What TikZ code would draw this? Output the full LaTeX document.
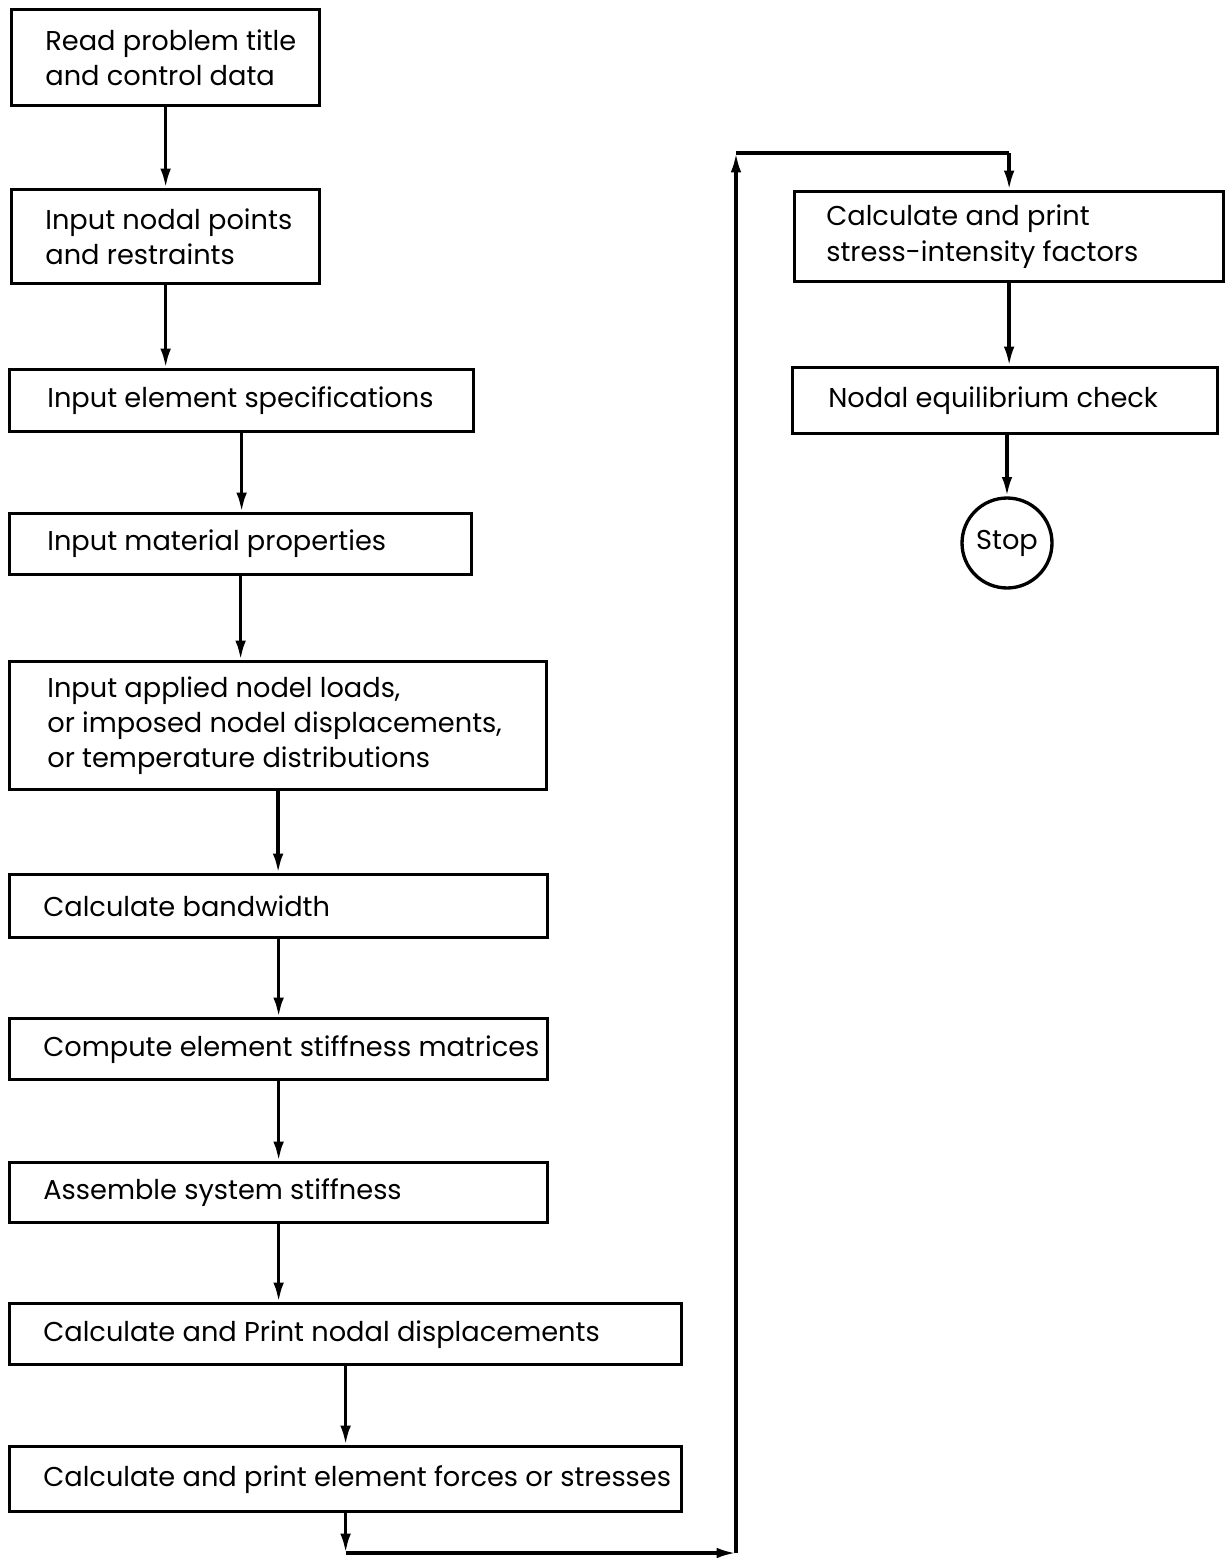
\documentclass[tikz,border=0pt]{standalone}
\usepackage{fontspec}
\setmainfont{Poppins}
\usetikzlibrary{arrows.meta}

\begin{document}
\begin{tikzpicture}[x=0.02cm,y=-0.02cm,
  >={Latex[length=11pt,width=6pt]},
  procbox/.style={draw,line width=1.9pt,anchor=north west,inner sep=0pt},
  proctext/.style={anchor=west,align=left,inner sep=0pt,xshift=0.7cm,font=\fontsize{15.5}{20}\selectfont},
  flow/.style={->,line width=1.9pt}]
\useasboundingbox (0,0) rectangle (1228,1558);

% left column
\node[procbox,minimum width=6.16cm,minimum height=1.92cm,label={[proctext]west:{Read problem title\\and control data}}] (title) at (10,8) {};
\node[procbox,minimum width=6.16cm,minimum height=1.88cm,label={[proctext]west:{Input nodal points\\and restraints}}] (nodal) at (10,188) {};
\node[procbox,minimum width=9.28cm,minimum height=1.24cm,label={[proctext,xshift=0.08cm]west:{Input element specifications}}] (elem) at (8,368) {};
\node[procbox,minimum width=9.24cm,minimum height=1.22cm,label={[proctext,xshift=0.08cm]west:{Input material properties}}] (matl) at (8,512) {};
\node[procbox,minimum width=10.74cm,minimum height=2.56cm,label={[proctext,xshift=0.08cm]west:{Input applied nodel loads,\\or imposed nodel displacements,\\or temperature distributions}}] (loads) at (8,660) {};
\node[procbox,minimum width=10.76cm,minimum height=1.26cm,label={[proctext]west:{Calculate bandwidth}}] (band) at (8,873) {};
\node[procbox,minimum width=10.76cm,minimum height=1.22cm,label={[proctext]west:{Compute element stiffness matrices}}] (stiff) at (8,1017) {};
\node[procbox,minimum width=10.76cm,minimum height=1.20cm,label={[proctext]west:{Assemble system stiffness}}] (assem) at (8,1161) {};
\node[procbox,minimum width=13.44cm,minimum height=1.22cm,label={[proctext]west:{Calculate and Print nodal displacements}}] (disp) at (8,1302) {};
\node[procbox,minimum width=13.44cm,minimum height=1.30cm,label={[proctext]west:{Calculate and print element forces or stresses}}] (forces) at (8,1445) {};

% right column
\node[procbox,minimum width=8.58cm,minimum height=1.80cm,label={[proctext,xshift=-0.04cm]west:{Calculate and print\\stress-intensity factors}}] (sif) at (793,190) {};
\node[procbox,minimum width=8.50cm,minimum height=1.32cm,label={[proctext,xshift=0.04cm]west:{Nodal equilibrium check}}] (check) at (791,366) {};
\node[draw,circle,line width=1.9pt,minimum size=1.8cm,inner sep=0pt,font=\fontsize{15.5}{20}\selectfont] (stop) at (1007,543) {Stop};

\draw[flow] (title.south) -- (title.south |- nodal.north);
\draw[flow] (nodal.south) -- (nodal.south |- elem.north);
\draw[flow] (elem.south) -- (elem.south |- matl.north);
\draw[flow] (matl.south) -- (matl.south |- loads.north);
\draw[flow] (loads.south) -- (loads.south |- band.north);
\draw[flow] (band.south) -- (band.south |- stiff.north);
\draw[flow] (stiff.south) -- (stiff.south |- assem.north);
\draw[flow] (assem.south) -- (assem.south |- disp.north);
\draw[flow] (disp.south) -- (disp.south |- forces.north);

% loop back to the top of the right column
\coordinate (loopb) at (736,1553);
\coordinate (loopc) at (736,153);
\coordinate (loopa) at (forces.south |- loopb);
\coordinate (loopd) at (sif.north |- loopc);
\draw[flow] (forces.south) -- (loopa);
\draw[flow] (loopa) -- (loopb);
\draw[flow] (loopb) -- (loopc);
\draw[flow,-] (loopc) -- (loopd);
\draw[flow] (loopd) -- (sif.north);

\draw[flow] (sif.south) -- (sif.south |- check.north);
\draw[flow] (stop.north |- check.south) -- (stop.north);

\end{tikzpicture}
\end{document}
